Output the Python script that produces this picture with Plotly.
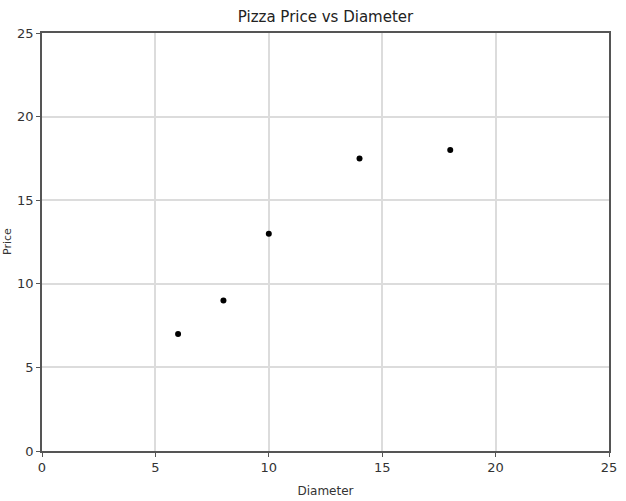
import plotly.graph_objects as go

diameter = [6, 8, 10, 14, 18]
price = [7, 9, 13, 17.5, 18]
tick_vals = [0, 5, 10, 15, 20, 25]

fig = go.Figure()
fig.add_trace(go.Scatter(x=diameter, y=price, mode="markers",
                         marker=dict(color="black", size=6), showlegend=False))

axis_common = dict(
    range=[0, 25], tickvals=tick_vals, showgrid=True, gridcolor="#dcdcdc", gridwidth=1.5,
    zeroline=False, showline=True, linecolor="#555555", linewidth=1.5, mirror=True,
    ticks="outside", ticklen=4, tickcolor="#555555", automargin=False,
    tickfont=dict(family="DejaVu Sans", size=13, color="#333333"),
)
fig.update_xaxes(**axis_common, title=dict(text="Diameter", font=dict(family="DejaVu Sans", size=12, color="#333333"), standoff=12))
fig.update_yaxes(**axis_common)

fig.add_annotation(text="Price", x=0, xref="paper", xshift=-35, y=0.5, yref="paper",
                   textangle=-90, showarrow=False, xanchor="center",
                   font=dict(family="DejaVu Sans", size=11, color="#333333"))

fig.update_layout(
    width=626, height=501,
    margin=dict(l=42, r=17, t=33, b=50, autoexpand=False),
    paper_bgcolor="white", plot_bgcolor="white",
    title=dict(text="Pizza Price vs Diameter", x=0.5, xref="paper", y=1 - 17/501, yref="container",
               yanchor="middle", font=dict(family="DejaVu Sans", size=15, color="#222222")),
)
fig.write_html("out.html", config={"displayModeBar": False})

with open("out.html", "r", encoding="utf-8") as f:
    html = f.read()
html = html.replace("<body>", '<body style="margin:0;padding:0;overflow:hidden">', 1)
with open("out.html", "w", encoding="utf-8") as f:
    f.write(html)
